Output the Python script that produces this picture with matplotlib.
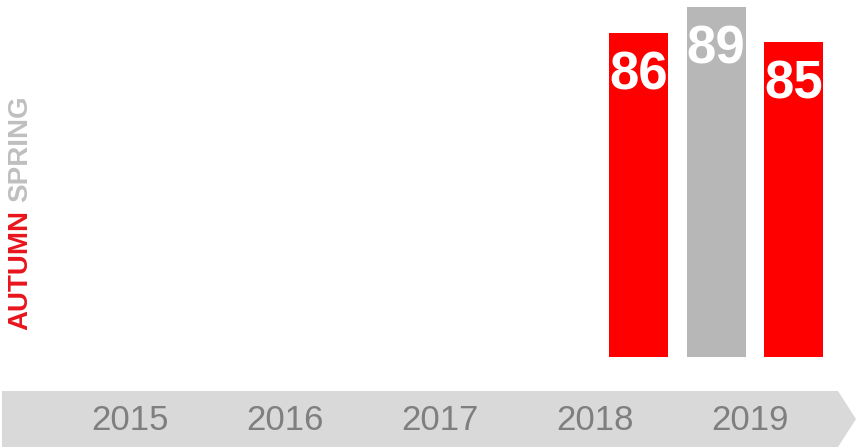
import matplotlib
matplotlib.use("Agg")
import matplotlib.pyplot as plt
from matplotlib.patches import Polygon

plt.rcParams['font.family'] = ['Liberation Sans', 'DejaVu Sans']

years = [2015, 2016, 2017, 2018, 2019]
bar_years = [2018, 2019, 2019]
bar_seasons = ["AUTUMN", "SPRING", "AUTUMN"]
bar_values = [86, 89, 85]

season_offset = {"SPRING": -0.25, "AUTUMN": 0.25}
season_color = {"SPRING": "#b7b7b7", "AUTUMN": "#ff0000"}

fig = plt.figure(figsize=(8.56, 4.47), dpi=100)
ax = fig.add_axes([0, 0, 1, 1])
ax.set_xlim(2014.1290, 2019.652)
ax.set_ylim(38.74, 89.745)
ax.axis('off')

base = 49.0
xs = [y + season_offset[s] for y, s in zip(bar_years, bar_seasons)]
cols = [season_color[s] for s in bar_seasons]
ax.bar(xs, [v - base for v in bar_values], bottom=base, width=0.38, color=cols, zorder=2)
for x, v in zip(xs, bar_values):
    ax.annotate(str(v), (x, v), xytext=(0, -57 * 0.72), textcoords='offset points',
                ha='center', va='baseline', color='white', fontsize=38, fontweight='bold', zorder=3)

# gray arrow band (axes coords)
band = Polygon([(2 / 856, 0), (2 / 856, 56 / 447), (838 / 856, 56 / 447),
                (1.0, 28 / 447), (838 / 856, 0)], closed=True,
               transform=ax.transAxes, facecolor='#d9d9d9', edgecolor='none', zorder=1)
ax.add_patch(band)

for y in years:
    ax.text(y - 0.03, 27 / 447, str(y), transform=ax.get_xaxis_transform(),
            ha='center', va='center', fontsize=25, color='#7f7f7f', zorder=3)

# vertical legend text
ax.text(20 / 856, 1 - 330 / 447, "AUTUMN", transform=ax.transAxes, rotation=90,
        ha='center', va='bottom', fontsize=20, fontweight='bold', color='#e8141c')
ax.text(20 / 856, 1 - 95 / 447, "SPRING", transform=ax.transAxes, rotation=90,
        ha='center', va='top', fontsize=20, fontweight='bold', color='#bfbfbf')

fig.savefig("out.png", dpi=100)
